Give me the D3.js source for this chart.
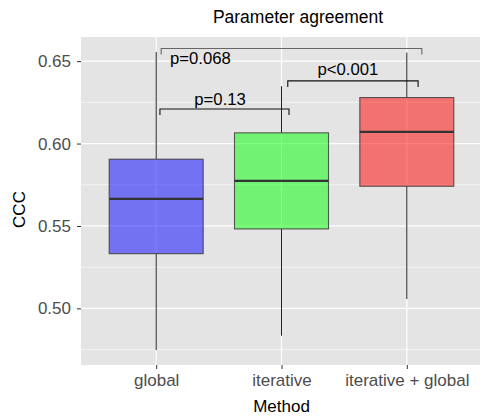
<!DOCTYPE html>
<html><head><meta charset="utf-8">
<script src="https://cdn.jsdelivr.net/npm/d3@7"></script>
<style>body{margin:0;background:#fff} svg{display:block;font-family:"Liberation Sans",Arial,sans-serif}</style>
</head><body><svg id="chart" width="480" height="416"></svg>
<script>
// Box summaries per method (CCC)
const methods = ["global", "iterative", "iterative + global"];
const whiskerLow = [0.4747, 0.4834, 0.5057];
const lowerQuartile = [0.5332, 0.5482, 0.5741];
const medians = [0.5664, 0.5773, 0.6071];
const upperQuartile = [0.5905, 0.6065, 0.6279];
const whiskerHigh = [0.6556, 0.6348, 0.6552];
const boxColors = ["#0000ff", "#00ff00", "#ff0000"];

const yTicks = [0.50, 0.55, 0.60, 0.65];
const yMinorTicks = [0.475, 0.525, 0.575, 0.625];

// Pairwise comparisons (category positions are 1-based)
const compFrom = [1.03, 2.05, 1.04];
const compTo = [2.06, 3.09, 3.12];
const compY = [0.621, 0.638, 0.6577];
const compLabels = ["p=0.13", "p<0.001", "p=0.068"];
const compLabelX = [1.51, 2.53, 1.11];
const compLabelY = [0.6235, 0.6413, 0.6484];

const svg = d3.select("#chart");
const panel = {left: 81, right: 482, top: 37, bottom: 365};

const x = d3.scaleLinear().domain([0.4, methods.length + 0.6]).range([panel.left, panel.right]);
const lo = d3.min(whiskerLow), hi = d3.max(whiskerHigh), pad = (hi - lo) * 0.05;
const y = d3.scaleLinear().domain([lo - pad, hi + pad]).range([panel.bottom, panel.top]);

// panel background and grid
svg.append("rect").attr("x", panel.left).attr("y", panel.top)
  .attr("width", panel.right - panel.left).attr("height", panel.bottom - panel.top)
  .attr("fill", "#e4e4e4");
const grid = svg.append("g");
grid.selectAll("line.minor").data(yMinorTicks).join("line")
  .attr("x1", panel.left).attr("x2", panel.right)
  .attr("y1", d => y(d)).attr("y2", d => y(d))
  .attr("stroke", "#fff").attr("stroke-width", 0.6);
grid.selectAll("line.major").data(yTicks).join("line")
  .attr("x1", panel.left).attr("x2", panel.right)
  .attr("y1", d => y(d)).attr("y2", d => y(d))
  .attr("stroke", "#fff").attr("stroke-width", 1.2);
grid.selectAll("line.vert").data(methods).join("line")
  .attr("x1", (d, i) => x(i + 1)).attr("x2", (d, i) => x(i + 1))
  .attr("y1", panel.top).attr("y2", panel.bottom)
  .attr("stroke", "#fff").attr("stroke-width", 1.2);

// boxes
const boxW = (x(1.75) - x(1));
const boxes = svg.append("g").selectAll("g").data(methods).join("g");
boxes.append("line")
  .attr("x1", (d, i) => x(i + 1)).attr("x2", (d, i) => x(i + 1))
  .attr("y1", (d, i) => y(upperQuartile[i])).attr("y2", (d, i) => y(whiskerHigh[i]))
  .attr("stroke", "#222").attr("stroke-width", 1);
boxes.append("line")
  .attr("x1", (d, i) => x(i + 1)).attr("x2", (d, i) => x(i + 1))
  .attr("y1", (d, i) => y(lowerQuartile[i])).attr("y2", (d, i) => y(whiskerLow[i]))
  .attr("stroke", "#222").attr("stroke-width", 1);
boxes.append("rect")
  .attr("x", (d, i) => x(i + 1) - boxW / 2).attr("width", boxW)
  .attr("y", (d, i) => y(upperQuartile[i]))
  .attr("height", (d, i) => y(lowerQuartile[i]) - y(upperQuartile[i]))
  .attr("fill", (d, i) => boxColors[i]).attr("fill-opacity", 0.5)
  .attr("stroke", "#333").attr("stroke-opacity", 0.8).attr("stroke-width", 1.1);
boxes.append("line")
  .attr("x1", (d, i) => x(i + 1) - boxW / 2).attr("x2", (d, i) => x(i + 1) + boxW / 2)
  .attr("y1", (d, i) => y(medians[i])).attr("y2", (d, i) => y(medians[i]))
  .attr("stroke", "#333").attr("stroke-width", 2.2);

// axes
const yAxis = d3.axisLeft(y).tickValues(yTicks).tickFormat(d3.format(".2f")).tickSize(4).tickPadding(6);
const gy = svg.append("g").attr("transform", `translate(${panel.left},0)`).call(yAxis);
gy.select(".domain").remove();
gy.selectAll("line").attr("stroke", "#333");
gy.selectAll("text").attr("fill", "#4d4d4d").attr("font-size", 17).attr("font-family", "Liberation Sans, Arial, sans-serif");

const xAxis = d3.axisBottom(x).tickValues(methods.map((d, i) => i + 1))
  .tickFormat(d => methods[d - 1]).tickSize(4).tickPadding(5);
const gx = svg.append("g").attr("transform", `translate(0,${panel.bottom})`).call(xAxis);
gx.select(".domain").remove();
gx.selectAll("line").attr("stroke", "#333");
gx.selectAll("text").attr("fill", "#4d4d4d").attr("font-size", 17).attr("font-family", "Liberation Sans, Arial, sans-serif");

// comparison brackets
const tip = 6;
const comps = svg.append("g").selectAll("g").data(compLabels).join("g");
comps.append("path")
  .attr("d", (d, i) => `M${x(compFrom[i])},${y(compY[i]) + tip}V${y(compY[i])}H${x(compTo[i])}V${y(compY[i]) + tip}`)
  .attr("fill", "none")
  .attr("stroke", (d, i) => i === 2 ? "#666" : "#111").attr("stroke-width", 1.1);
comps.append("text")
  .attr("x", (d, i) => x(compLabelX[i])).attr("y", (d, i) => y(compLabelY[i]))
  .attr("text-anchor", (d, i) => i === 2 ? "start" : "middle")
  .attr("font-size", 16.7).attr("fill", "#000")
  .text(d => d);

// titles
svg.append("text").attr("x", 298).attr("y", 23.3).attr("text-anchor", "middle")
  .attr("font-size", 17.5).attr("fill", "#000").text("Parameter agreement");
svg.append("text").attr("x", (panel.left + 482) / 2).attr("y", 411.5).attr("text-anchor", "middle")
  .attr("font-size", 17).attr("fill", "#000").text("Method");
svg.append("text").attr("transform", `translate(25,209.5) rotate(-90)`).attr("text-anchor", "middle")
  .attr("font-size", 17).attr("fill", "#000").text("CCC");
</script></body></html>
